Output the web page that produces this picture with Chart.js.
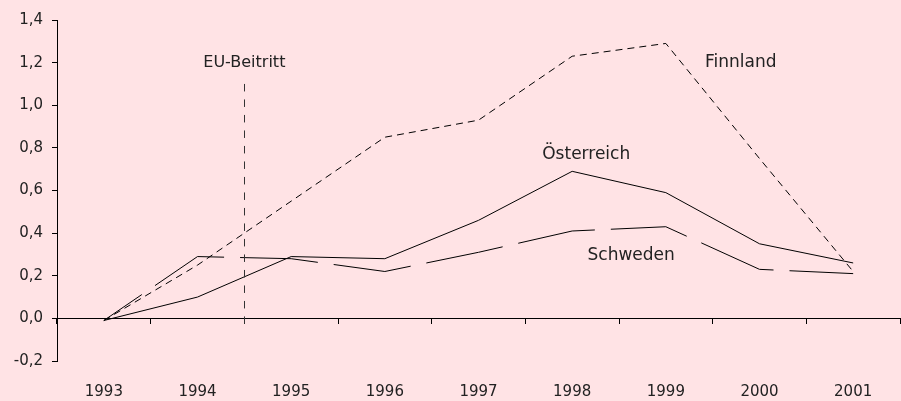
<!DOCTYPE html>
<html>
<head>
<meta charset="utf-8">
<script src="https://cdn.jsdelivr.net/npm/chart.js@4"></script>
<style>
  html, body { margin: 0; padding: 0; background: #ffe3e5; }
</style>
</head>
<body>
<canvas id="myChart" width="901" height="401"></canvas>
<script>
// Werte
var years = ['1993', '1994', '1995', '1996', '1997', '1998', '1999', '2000', '2001'];
var oesterreich = [-0.01, 0.10, 0.29, 0.28, 0.46, 0.69, 0.59, 0.35, 0.26];
var finnland = [-0.01, 0.25, 0.55, 0.85, 0.93, 1.23, 1.29, 0.75, 0.22];
var schweden = [-0.01, 0.29, 0.28, 0.22, 0.31, 0.41, 0.43, 0.23, 0.21];
var yTicks = { min: -0.2, max: 1.4, step: 0.2 };

// EU-Beitritt zwischen 1994 und 1995 (Kategorie-Index 1.5)
var euLine = { x: 1.5, top: 1.10, bottom: -0.03 };
var notes = [
    { text: 'EU-Beitritt', x: 1.5, y: 1.20, size: 16 },
    { text: 'Finnland', x: 6.8, y: 1.20, size: 17 },
    { text: 'Österreich', x: 5.15, y: 0.77, size: 17 },
    { text: 'Schweden', x: 5.63, y: 0.295, size: 17 }
];

Chart.defaults.font.family = 'DejaVu Sans';
Chart.defaults.font.size = 15;
Chart.defaults.color = '#222';

var annotate = {
    id: 'annotate',
    afterDatasetsDraw: function (chart) {
        var c = chart.ctx, xs = chart.scales.x, ys = chart.scales.y;
        c.save();
        // vertical line
        c.strokeStyle = '#333';
        c.lineWidth = 1;
        c.setLineDash([7.5, 8]);
        var px = Math.round(xs.getPixelForValue(euLine.x)) + 0.5;
        c.beginPath();
        c.moveTo(px, ys.getPixelForValue(euLine.top));
        c.lineTo(px, ys.getPixelForValue(euLine.bottom));
        c.stroke();
        c.setLineDash([]);
        // texts
        c.fillStyle = '#222';
        c.textAlign = 'center';
        c.textBaseline = 'middle';
        notes.forEach(function (n) {
            c.font = n.size + 'px DejaVu Sans';
            c.fillText(n.text, xs.getPixelForValue(n.x), ys.getPixelForValue(n.y));
        });
        c.restore();
    }
};

var ctx = document.getElementById('myChart').getContext('2d');
var myChart = new Chart(ctx, {
    type: 'line',
    data: {
        labels: years,
        datasets: [{
            label: 'Finnland',
            data: finnland,
            borderColor: '#000',
            borderWidth: 1,
            borderDash: [7, 5],
            pointRadius: 0,
            fill: false
        }, {
            label: 'Schweden',
            data: schweden,
            borderColor: '#000',
            borderWidth: 1,
            borderDash: [78, 16],
            borderDashOffset: 32,
            pointRadius: 0,
            fill: false
        }, {
            label: 'Österreich',
            data: oesterreich,
            borderColor: '#000',
            borderWidth: 1,
            pointRadius: 0,
            fill: false
        }]
    },
    options: {
        responsive: false,
        animation: false,
        layout: { padding: { top: 20, right: 1, left: 0, bottom: 0 } },
        plugins: {
            legend: { display: false },
            tooltip: { enabled: false }
        },
        scales: {
            x: {
                type: 'category',
                position: { y: 0 },
                offset: true,
                grid: { offset: true, drawOnChartArea: false, tickLength: 5, color: '#000' },
                border: { color: '#000' },
                ticks: { display: false }
            },
            x2: {
                type: 'category',
                position: 'bottom',
                offset: true,
                grid: { display: false, drawTicks: false },
                border: { display: false },
                ticks: { padding: 22, maxRotation: 0, autoSkip: false },
                afterFit: function (s) { s.height = 40; }
            },
            y: {
                min: yTicks.min,
                max: yTicks.max,
                grid: { drawOnChartArea: false, tickLength: 5, color: '#000' },
                border: { color: '#000' },
                ticks: {
                    stepSize: yTicks.step,
                    padding: 9,
                    callback: function (v) {
                        var r = Math.round(v * 10) / 10;
                        if (r === 0) r = 0;
                        return r.toFixed(1).replace('.', ',');
                    }
                },
                afterFit: function (s) { s.width = 57; }
            }
        }
    },
    plugins: [annotate]
});
</script>
</body>
</html>
